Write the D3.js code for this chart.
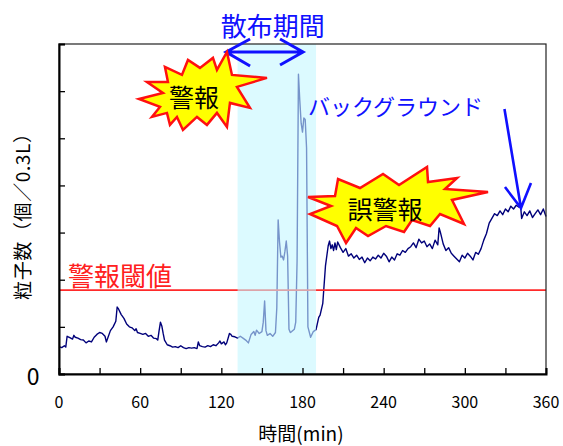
<!DOCTYPE html>
<html>
<head>
<meta charset="utf-8">
<script src="https://cdn.jsdelivr.net/npm/d3@7"></script>
<style>
  body { margin: 0; background: #fff; }
  text { font-family: "Noto Sans CJK JP", "Noto Sans", sans-serif; }
</style>
</head>
<body>
<div id="chart"></div>
<script>
// 時間 (min)
var timeMin = [0, 2, 4, 5, 6, 8, 10, 11, 12, 14, 16, 18, 20, 22, 24, 26, 28, 30, 32, 34, 35, 36, 38, 40, 42, 43, 44, 46, 48, 50,
  52, 54, 56, 57, 58, 60, 62, 64, 66, 68, 70, 72, 73, 74, 75, 76, 77, 78, 80, 82, 84, 86, 88, 90, 92, 94, 96, 98, 100, 102,
  103, 104, 106, 108, 110, 112, 114, 116, 118, 119, 120, 122, 123, 124, 126, 127, 128, 130, 132, 134, 136, 138, 140, 142, 144, 145, 146, 148, 150, 151,
  152, 153, 154, 156, 158, 160, 161, 162, 163, 164, 165, 166, 167, 168, 169, 170, 171, 172, 174, 175, 176, 177, 178, 179, 180, 181, 182, 183, 184, 186,
  188, 190, 192, 193, 195, 197, 199, 200, 201, 202, 203, 204, 205, 206, 208, 210, 212, 214, 216, 218, 220, 222, 224, 226, 228, 230, 232, 234, 236, 238,
  240, 242, 244, 246, 248, 250, 252, 254, 256, 258, 260, 262, 264, 266, 268, 270, 272, 274, 276, 278, 280, 281, 282, 284, 286, 288, 290, 292, 294, 296,
  298, 300, 302, 304, 306, 308, 310, 312, 314, 316, 318, 320, 322, 324, 326, 328, 330, 332, 334, 336, 338, 340, 341, 342, 344, 346, 348, 350, 352, 354,
  356, 358, 360];
// 粒子数
var particles = [0.58, 0.56, 0.60, 0.57, 0.80, 0.77, 0.74, 0.82, 0.78, 0.76, 0.73, 0.72, 0.66, 0.70, 0.68, 0.78, 0.84, 0.88, 0.86, 0.80, 0.68, 0.76, 0.92, 1.00, 1.12, 1.42, 1.38, 1.26, 1.18, 1.06,
  1.00, 0.98, 0.92, 0.96, 0.88, 0.86, 0.84, 0.86, 0.80, 0.82, 0.76, 0.75, 0.72, 0.92, 1.10, 1.02, 0.86, 0.72, 0.62, 0.60, 0.57, 0.58, 0.56, 0.60, 0.56, 0.54, 0.56, 0.55, 0.56, 0.54,
  0.68, 0.60, 0.58, 0.57, 0.60, 0.58, 0.62, 0.60, 0.66, 0.70, 0.64, 0.68, 0.62, 0.66, 0.86, 0.84, 0.80, 0.79, 0.76, 0.80, 0.76, 0.72, 0.66, 0.84, 0.90, 0.82, 0.93, 0.86, 0.90, 1.10,
  1.55, 0.92, 0.82, 0.86, 0.80, 0.88, 1.40, 3.27, 2.80, 2.48, 2.50, 2.42, 2.60, 2.82, 2.50, 0.95, 0.88, 0.90, 0.95, 1.10, 2.40, 6.36, 5.80, 5.32, 5.13, 5.43, 5.40, 4.80, 1.00, 0.78,
  0.90, 0.94, 1.20, 1.25, 1.50, 2.30, 2.72, 2.82, 2.66, 2.74, 2.62, 2.78, 2.64, 2.80, 2.68, 2.58, 2.66, 2.50, 2.55, 2.46, 2.52, 2.43, 2.48, 2.36, 2.46, 2.40, 2.48, 2.44, 2.52, 2.46,
  2.56, 2.50, 2.38, 2.48, 2.42, 2.55, 2.52, 2.62, 2.58, 2.66, 2.70, 2.78, 2.68, 2.86, 2.78, 2.82, 2.70, 2.76, 2.66, 2.84, 2.74, 3.10, 3.00, 2.76, 2.62, 2.68, 2.56, 2.50, 2.44, 2.38,
  2.52, 2.46, 2.56, 2.50, 2.42, 2.58, 2.54, 2.66, 2.84, 2.98, 3.20, 3.30, 3.40, 3.36, 3.46, 3.38, 3.50, 3.44, 3.56, 3.50, 3.58, 3.54, 3.64, 3.30, 3.44, 3.36, 3.46, 3.32, 3.40, 3.48,
  3.38, 3.50, 3.34];

var threshold = 1.78;          // 警報閾値
var spray = [132, 190];        // 散布期間
var xTicks = [0, 30, 60, 90, 120, 150, 180, 210, 240, 270, 300, 330, 360];
var xLabels = [0, 60, 120, 180, 240, 300, 360];
var yTicks = [0, 1, 2, 3, 4, 5, 6, 7];

var margin = { top: 44, right: 17, bottom: 72, left: 59 },
    width = 563 - margin.left - margin.right,
    height = 446 - margin.top - margin.bottom;

var svg = d3.select("#chart").append("svg")
    .attr("width", 563)
    .attr("height", 446);
var g = svg.append("g")
    .attr("transform", "translate(" + margin.left + "," + margin.top + ")");

var x = d3.scaleLinear().domain([0, 360]).range([0, width]);
var y = d3.scaleLinear().domain([0, 7]).range([height, 0]);

var data = timeMin.map(function (t, i) { return { t: t, v: particles[i] }; });

// data line
g.append("path")
    .datum(data)
    .attr("fill", "none")
    .attr("stroke", "#00007a")
    .attr("stroke-width", 1.4)
    .attr("stroke-linejoin", "round")
    .attr("d", d3.line().x(function (d) { return x(d.t); }).y(function (d) { return y(d.v); }));

// threshold
g.append("line")
    .attr("x1", 0).attr("x2", width)
    .attr("y1", y(threshold)).attr("y2", y(threshold))
    .attr("stroke", "#ff2a2a")
    .attr("stroke-width", 1.6);

// spray period shading (over the line, like the original)
g.append("rect")
    .attr("x", x(spray[0]))
    .attr("width", x(spray[1]) - x(spray[0]))
    .attr("y", 0)
    .attr("height", height)
    .attr("fill", "#c4f6ff")
    .attr("opacity", 0.6);

// frame
g.append("rect")
    .attr("width", width).attr("height", height)
    .attr("fill", "none")
    .attr("stroke", "#222")
    .attr("stroke-width", 1.2);

// axes
var xAxis = g.append("g")
    .attr("transform", "translate(0," + height + ")")
    .call(d3.axisBottom(x).tickValues(xTicks).tickSize(-6).tickFormat(""));
xAxis.select(".domain").attr("stroke-width", 2).attr("stroke", "#000");
xAxis.selectAll(".tick line").attr("stroke-width", 1.3);

g.selectAll(".xlab")
    .data(xLabels)
    .enter().append("text")
    .attr("class", "xlab")
    .attr("x", function (d) { return x(d); })
    .attr("y", height + 34)
    .attr("text-anchor", "middle")
    .attr("font-size", 16)
    .attr("fill", "#000")
    .text(function (d) { return d; });

var yAxis = g.append("g")
    .call(d3.axisLeft(y).tickValues(yTicks).tickSize(-6).tickFormat(""));
yAxis.select(".domain").attr("stroke-width", 2).attr("stroke", "#000");
yAxis.selectAll(".tick line").attr("stroke-width", 1.3);

g.append("text")
    .attr("x", -26)
    .attr("y", y(0) + 11)
    .attr("text-anchor", "middle")
    .attr("font-size", 23)
    .text("0");

// axis titles
svg.append("text")
    .attr("x", 301)
    .attr("y", 441)
    .attr("text-anchor", "middle")
    .attr("font-size", 19)
    .text("時間(min)");

svg.append("text")
    .attr("transform", "translate(30,212) rotate(-90)")
    .attr("text-anchor", "middle")
    .attr("font-size", 19)
    .attr("textLength", 176)
    .attr("lengthAdjust", "spacing")
    .text("粒子数（個／0.3L）");

// 警報閾値 label
g.append("text")
    .attr("x", x(6.6))
    .attr("y", y(threshold) - 4)
    .attr("font-size", 26)
    .attr("fill", "#ff2020")
    .text("警報閾値");

// 散布期間 label + double arrow
svg.append("text")
    .attr("x", margin.left + x(158))
    .attr("y", 36)
    .attr("text-anchor", "middle")
    .attr("font-size", 26)
    .attr("fill", "#1010ff")
    .text("散布期間");

var ay = y(6.83), ax1 = x(123.5), ax2 = x(180.4);
var arrow = g.append("path")
    .attr("d", "M" + ax1 + "," + ay + "L" + ax2 + "," + ay +
      "M" + (ax1 + 24) + "," + (ay - 13) + "L" + ax1 + "," + ay + "L" + (ax1 + 24) + "," + (ay + 14) +
      "M" + (ax2 - 23) + "," + (ay - 13) + "L" + ax2 + "," + ay + "L" + (ax2 - 23) + "," + (ay + 13))
    .attr("fill", "none")
    .attr("stroke", "#1010ff")
    .attr("stroke-width", 3);

// starbursts
function burst(cx, cy, pts, label, dx, dy, fs) {
  var b = g.append("g").attr("transform", "translate(" + cx + "," + cy + ")");
  b.append("polygon")
      .attr("points", pts.map(function (p) { return p.join(","); }).join(" "))
      .attr("fill", "#ffff00")
      .attr("stroke", "#ff1010")
      .attr("stroke-width", 2.5)
      .attr("stroke-linejoin", "miter");
  b.append("text")
      .attr("x", dx).attr("y", dy)
      .attr("text-anchor", "middle")
      .attr("dominant-baseline", "central")
      .attr("font-size", fs)
      .attr("fill", "#000")
      .text(label);
}

var burst1 = [[-61, 4], [-37, -2], [-53, -13], [-32, -13], [-35, -28], [-18, -20], [-12, -35], [0, -27], [13, -37], [17, -25],
  [27, -43], [32, -20], [67, -17], [37, -8], [50, 13], [30, 8], [27, 32], [17, 18], [7, 30], [-3, 22], [-17, 35], [-23, 22],
  [-30, 30], [-33, 18], [-48, 22], [-40, 12]];
var burst2 = [[-82, -8], [-55, -9], [-52, -26], [-30, -17], [-7, -31], [9, -20], [37, -38], [38, -23], [67, -27], [55, -16],
  [98, -13], [62, -5], [74, 19], [50, 9], [40, 21], [22, 15], [14, 27], [-4, 21], [-22, 31], [-34, 23], [-44, 38], [-53, 21],
  [-80, 9], [-59, 1]];

burst(x(104.2), y(5.92), burst1, "警報", -6, 1, 25);
burst(x(244.7), y(3.585), burst2, "誤警報", -5, 3, 25);

// バックグラウンド label + arrow
g.append("text")
    .attr("x", x(184))
    .attr("y", y(5.49))
    .attr("font-size", 22)
    .attr("fill", "#1010ff")
    .text("バックグラウンド");

var tx = x(341.5), ty = y(3.52), sx = x(329.3), sy = y(5.62);
g.append("path")
    .attr("d", "M" + sx + "," + sy + "L" + tx + "," + ty +
      "M" + (tx - 16) + "," + (ty - 21) + "L" + tx + "," + ty + "L" + (tx + 10) + "," + (ty - 25))
    .attr("fill", "none")
    .attr("stroke", "#1010ff")
    .attr("stroke-width", 2.6);
</script>
</body>
</html>
